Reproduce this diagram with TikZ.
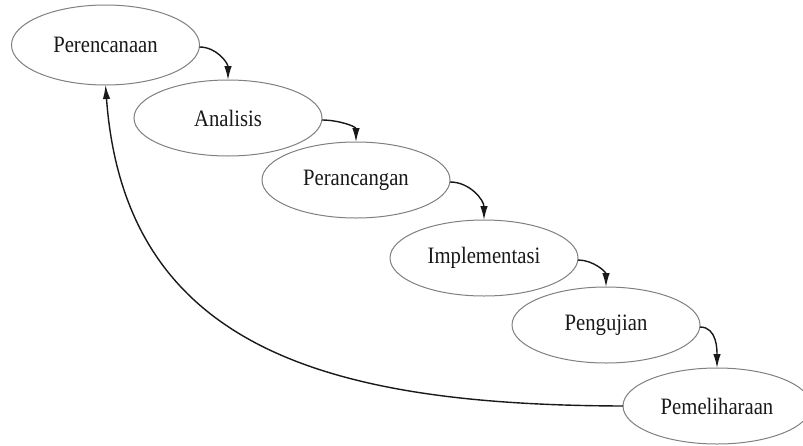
\documentclass[tikz,border=0pt]{standalone}
\usepackage{fontspec}
\setmainfont[FakeStretch=0.88]{Liberation Serif}
\usetikzlibrary{arrows.meta,shapes.geometric}
\tikzset{
  phase/.style={ellipse, draw=black!50, line width=1pt, fill=white,
    minimum width=188pt, minimum height=76pt, inner sep=0pt, outer sep=0pt,
    text=black!90, font=\fontsize{23.5}{28}\selectfont},
  flow/.style={line width=1.4pt, draw=black!90,
    -{Latex[length=14pt,width=7.5pt]}}
}
\begin{document}
\begin{tikzpicture}[x=1pt,y=-1pt]
\useasboundingbox (0,0) rectangle (803,445);
\fill[white] (0,0) rectangle (803,445);
\clip (0,0) rectangle (803,445);
\node[phase, minimum height=80pt] (p1) at (105.5,45) {Perencanaan};
\node[phase] (p2) at (228,118) {Analisis};
\node[phase] (p3) at (356,180) {Perancangan};
\node[phase] (p4) at (484,258) {Implementasi};
\node[phase] (p5) at (606,325) {Pengujian};
\node[phase] (p6) at (717,406) {Pemeliharaan};
\draw[flow] ([yshift=-2pt]p1.east) to[out=0,in=90] (p2.north);
\draw[flow] ([yshift=-2pt]p2.east) to[out=0,in=90] (p3.north);
\draw[flow] ([yshift=-2pt]p3.east) to[out=0,in=90] (p4.north);
\draw[flow] ([yshift=-2pt]p4.east) to[out=0,in=90] (p5.north);
\draw[flow] ([yshift=-2pt]p5.east) to[out=0,in=90] (p6.north);
\draw[flow] (p6.west) .. controls (330,405) and (125,350) .. (p1.south);
\end{tikzpicture}
\end{document}
